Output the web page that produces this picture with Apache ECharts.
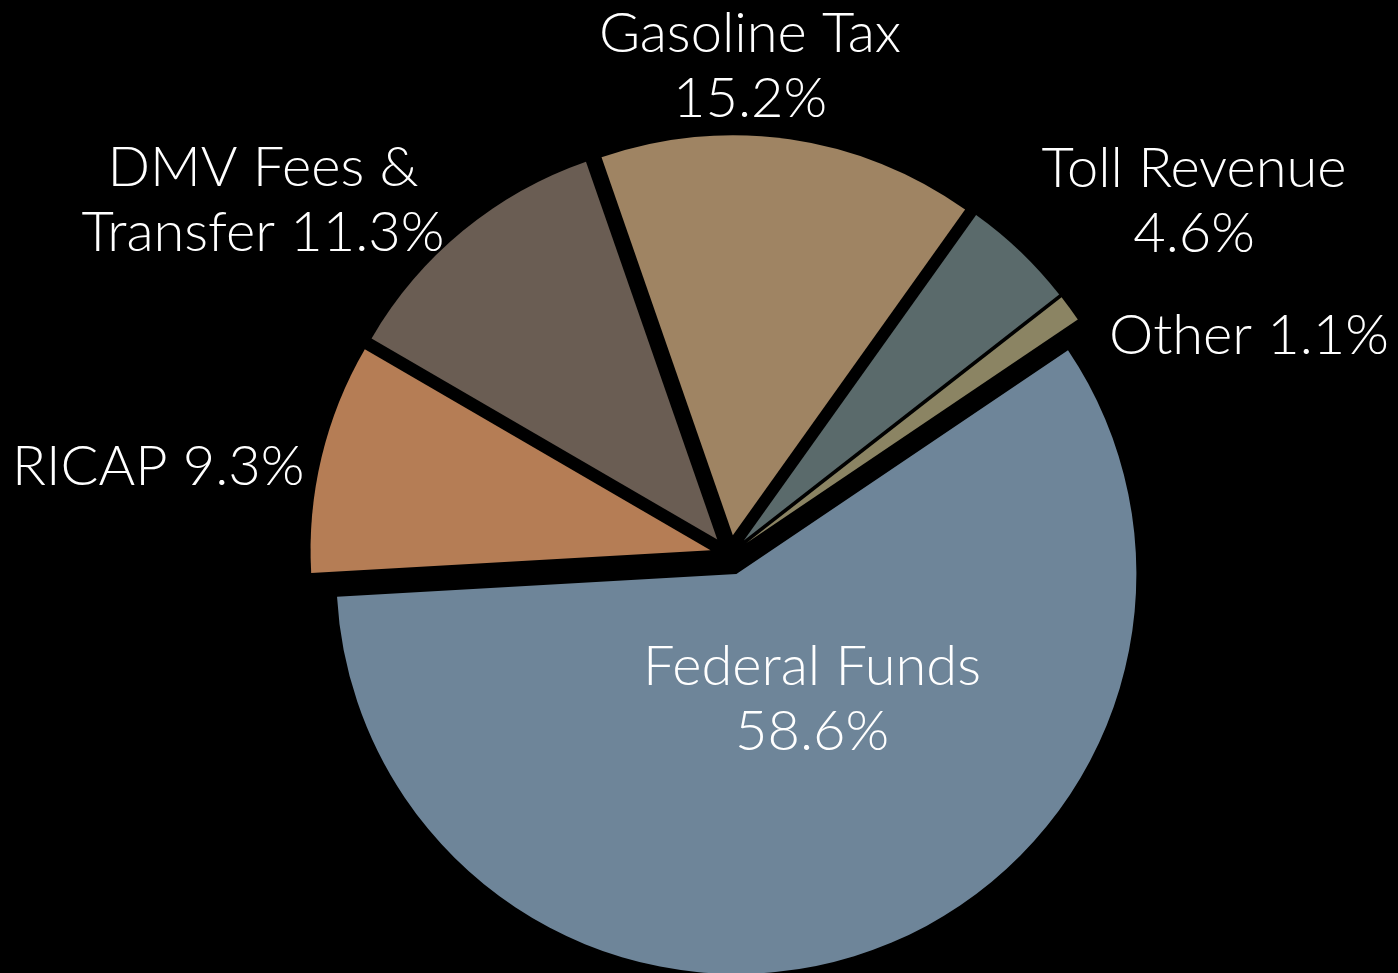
<!DOCTYPE html>
<html>
<head>
<meta charset="utf-8">
<script src="https://cdn.jsdelivr.net/npm/echarts@6/dist/echarts.min.js"></script>
<style>
  html, body { margin: 0; padding: 0; background: #000; }
  #chart { width: 1398px; height: 973px; }
</style>
</head>
<body>
<div id="chart"></div>
<script>
// revenue sources (percent), clockwise from the Federal Funds edge
var categories = ['Federal Funds', 'RICAP', 'DMV Fees & Transfer', 'Gasoline Tax', 'Toll Revenue', 'Other'];
var shares = [58.6, 9.3, 11.3, 15.2, 4.6, 1.1];
var sliceColors = ['#6e8599', '#b57d55', '#6a5d53', '#9f8463', '#5a6a6b', '#8b8463'];

// label text as printed on the chart (line breaks as in the original)
var labelText = [
  'Federal Funds\n58.6%',
  'RICAP 9.3%',
  'DMV Fees &\nTransfer 11.3%',
  'Gasoline Tax\n15.2%',
  'Toll Revenue\n4.6%',
  'Other 1.1%'
];
// where each label sits on the page
var labelPos = [
  { x: 812, y: 699, align: 'center' },
  { x: 12,  y: 467, align: 'left' },
  { x: 263, y: 200, align: 'center' },
  { x: 750, y: 66,  align: 'center' },
  { x: 1194, y: 201, align: 'center' },
  { x: 1389, y: 336, align: 'right' }
];

var pieData = [];
for (var i = 0; i < categories.length; i++) {
  pieData.push({
    name: categories[i],
    value: shares[i],
    selected: true,
    itemStyle: { color: sliceColors[i] }
  });
}

var labels = [];
for (var j = 0; j < labelText.length; j++) {
  labels.push({
    type: 'text',
    x: labelPos[j].x,
    y: labelPos[j].y,
    z: 100,
    silent: true,
    style: {
      text: labelText[j],
      fill: '#ffffff',
      font: '300 56px Lato',
      lineHeight: 65,
      align: labelPos[j].align,
      verticalAlign: 'middle'
    }
  });
}

var myChart = echarts.init(document.getElementById('chart'));
var option = {
  backgroundColor: '#000000',
  animation: false,
  graphic: labels,
  series: [
    {
      type: 'pie',
      center: [730, 555],
      radius: 400,
      startAngle: 34,
      clockwise: true,
      selectedMode: 'multiple',
      selectedOffset: 20,
      emphasis: { disabled: true },
      itemStyle: { borderWidth: 0 },
      label: { show: false },
      labelLine: { show: false },
      data: pieData
    }
  ]
};
myChart.setOption(option);
</script>
</body>
</html>
